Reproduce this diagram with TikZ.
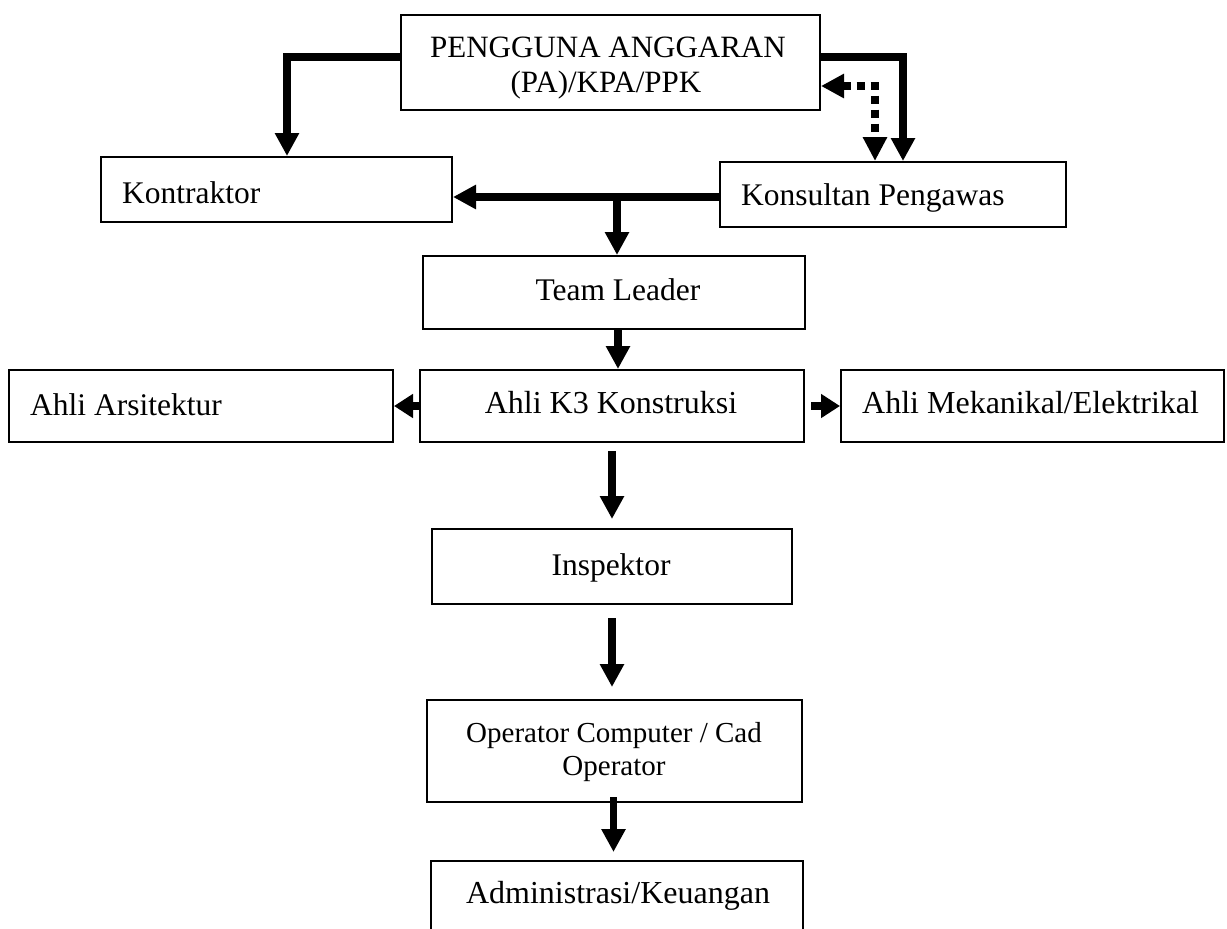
\documentclass[tikz,border=0pt]{standalone}
\usepackage{fontspec}
\setmainfont{Liberation Serif}
\usetikzlibrary{arrows.meta,fit,calc}
\begin{document}
\begin{tikzpicture}[x=1pt,y=1pt,
  box/.style={draw, line width=2pt, inner sep=0pt, rectangle},
  txt/.style={inner sep=0pt, anchor=base, font=\fontsize{31.5}{36}\selectfont},
  txtl/.style={txt, anchor=base west},
  conn/.style={line width=7.5pt, line join=miter, -{Triangle[width=23pt,length=23pt]}},
  connshort/.style={line width=7.5pt, -{Triangle[width=23pt,length=19pt]}},
  dotconn/.style={line width=7.5pt, line join=miter, dash pattern=on 8pt off 6pt,
     {Triangle[width=23pt,length=23pt]}-{Triangle[width=23pt,length=24pt]}}
]
\clip (0,0) rectangle (1227,-929);
\fill[white] (0,0) rectangle (1227,-929);

% boxes
\node[box, fit={(401,-15) (820,-110)}] (PA) {};
\node[box, fit={(101,-157) (452,-222)}] (Kon) {};
\node[box, fit={(720,-162) (1066,-227)}] (Kons) {};
\node[box, fit={(423,-256) (805,-329)}] (TL) {};
\node[box, fit={(9,-370) (393,-442)}] (Ars) {};
\node[box, fit={(420,-370) (804,-442)}] (K3) {};
\node[box, fit={(841,-370) (1224,-442)}] (Mek) {};
\node[box, fit={(432,-529) (792,-604)}] (Insp) {};
\node[box, fit={(427,-700) (802,-802)}] (Op) {};
\node[box, fit={(431,-861) (803,-945)}] (Adm) {};

% texts
\node[txt, font=\fontsize{31}{36}\selectfont] (paA) at (608,-57) {PENGGUNA ANGGARAN};
\node[txt, font=\fontsize{31}{36}\selectfont] (paB) at (606,-92) {(PA)/KPA/PPK};
\node[txtl] (konT) at (122,-203) {Kontraktor};
\node[txtl] (konsT) at (741,-205) {Konsultan Pengawas};
\node[txt] (tlT) at (618,-300) {Team Leader};
\node[txtl] (arsT) at (30,-415) {Ahli Arsitektur};
\node[txt, font=\fontsize{32}{36}\selectfont] (k3T) at (611,-413) {Ahli K3 Konstruksi};
\node[txtl, font=\fontsize{32}{36}\selectfont] (mekT) at (862,-413) {Ahli Mekanikal/Elektrikal};
\node[txt] (inspT) at (611,-575) {Inspektor};
\node[txt, font=\fontsize{29}{33}\selectfont] (opA) at (614,-742) {Operator Computer / Cad};
\node[txt, font=\fontsize{29}{33}\selectfont] (opB) at (614,-775) {Operator};
\node[txt, font=\fontsize{32}{36}\selectfont] (admT) at (618,-903) {Administrasi/Keuangan};

% helper coordinates
\coordinate (yA) at (0,-57);
\coordinate (yD) at (0,-86);
\coordinate (yK) at (0,-197);
\coordinate (xL) at (287,0);
\coordinate (xR) at (903,0);
\coordinate (xD) at (875,0);
\coordinate (br) at (617,-197);

% connectors
\draw[conn] (PA.west |- yA) -| (xL |- Kon.north);
\draw[conn] (PA.east |- yA) -| (xR |- Kons.north);
\draw[dotconn] (PA.east |- yD) -| (xD |- Kons.north);
\draw[conn] (Kons.west |- yK) -- (Kon.east |- yK);
\draw[conn] (br) -- (br |- TL.north);
\draw[conn] ([xshift=4pt]TL.south) -- ([xshift=4pt]TL.south |- K3.north);
\draw[connshort] (K3.west) -- (Ars.east);
\draw[connshort] ([xshift=6pt]K3.east) -- (Mek.west);
\draw[conn] ([yshift=-8pt]K3.south) -- ([yshift=9pt]Insp.north -| K3.south);
\draw[conn] ([yshift=-13pt]Insp.south) -- ([yshift=12pt]Op.north -| Insp.south);
\draw[conn] ([yshift=6pt,xshift=-1pt]Op.south) -- ([yshift=8pt,xshift=-1pt]Adm.north -| Op.south);
\end{tikzpicture}
\end{document}
